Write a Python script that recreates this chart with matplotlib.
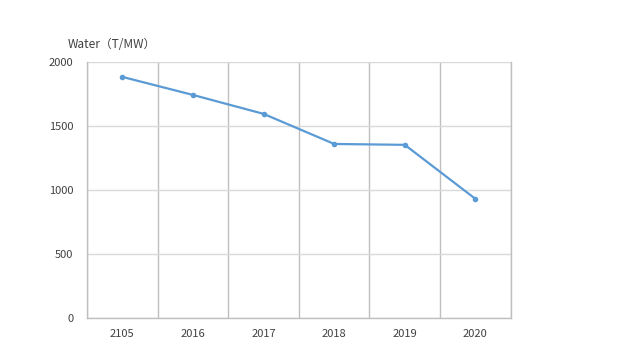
import numpy as np
import matplotlib
matplotlib.use("Agg")
import matplotlib.pyplot as plt

plt.rcParams['font.family'] = ['Noto Sans CJK SC', 'DejaVu Sans']

years = ["2105", "2016", "2017", "2018", "2019", "2020"]
water = [1883, 1742, 1594, 1359, 1352, 930]
y_ticks = [0, 500, 1000, 1500, 2000]

fig = plt.figure(figsize=(6.4, 3.6), dpi=100)
ax = fig.add_axes([0.136, 0.117, 0.662, 0.711])

x = np.arange(len(years))
ax.plot(x, water, color="#5B9BD5", lw=1.6, marker="o", ms=3, zorder=3)

ax.set_xlim(-0.5, len(years) - 0.5)
ax.set_ylim(0, 2000)
ax.set_xticks(x)
ax.set_xticklabels(years)
ax.set_xticks(np.arange(-0.5, len(years), 1.0), minor=True)
ax.set_yticks(y_ticks)

ax.grid(True, which="minor", axis="x", color="#BFBFBF", lw=1)
ax.grid(True, which="major", axis="y", color="#D9D9D9", lw=1)
ax.tick_params(which="both", length=0, labelsize=8, colors="#404040")
ax.tick_params(axis="x", pad=8)
ax.tick_params(axis="y", pad=10)
ax.spines["top"].set_visible(False)
for s in ["left", "right", "bottom"]:
    ax.spines[s].set_color("#BFBFBF")
    ax.spines[s].set_linewidth(1)

fig.text(0.106, 0.868, "Water（T/MW）", fontsize=8.5, color="#404040")

fig.savefig("out.png", dpi=100)
